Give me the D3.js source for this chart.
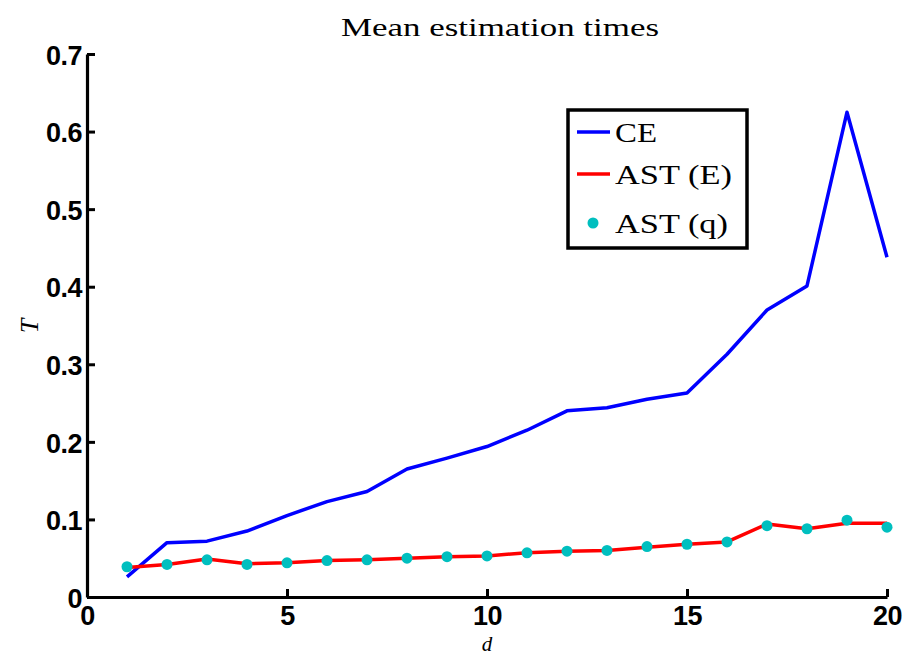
<!DOCTYPE html>
<html>
<head>
<meta charset="utf-8">
<script src="https://cdn.jsdelivr.net/npm/d3@7"></script>
<style>
  body { margin: 0; background: #fff; }
  svg { display: block; }
</style>
</head>
<body>
<div id="chart"></div>
<script>
// data
var dims = [1, 2, 3, 4, 5, 6, 7, 8, 9, 10, 11, 12, 13, 14, 15, 16, 17, 18, 19, 20];
var ceTimes = [0.026, 0.070, 0.072, 0.085, 0.105, 0.123, 0.136, 0.165, 0.179, 0.194, 0.215, 0.240, 0.244, 0.255, 0.263, 0.313, 0.370, 0.401, 0.625, 0.438];
var astE = [0.038, 0.042, 0.049, 0.043, 0.044, 0.047, 0.048, 0.050, 0.052, 0.053, 0.057, 0.059, 0.060, 0.064, 0.068, 0.071, 0.094, 0.088, 0.095, 0.095];
var astQ = [0.039, 0.042, 0.048, 0.042, 0.044, 0.047, 0.048, 0.050, 0.052, 0.053, 0.057, 0.059, 0.060, 0.065, 0.068, 0.071, 0.092, 0.088, 0.099, 0.090];
var xTicks = [0, 5, 10, 15, 20];
var yTicks = [0, 0.1, 0.2, 0.3, 0.4, 0.5, 0.6, 0.7];
var legendNames = ['CE', 'AST (E)', 'AST (q)'];

var svgwidth = 909, svgheight = 656;
var margin = {top: 54, left: 87, right: 22, bottom: 59};
var w = svgwidth - margin.left - margin.right;
var h = svgheight - margin.top - margin.bottom;

var svg = d3.select('#chart').append('svg')
    .attr('width', svgwidth)
    .attr('height', svgheight);

var x = d3.scaleLinear().domain([0, 20]).range([0, w]);
var y = d3.scaleLinear().domain([0, 0.7]).range([h, 0]);

var g = svg.append('g')
    .attr('transform', 'translate(' + margin.left + ',' + margin.top + ')');

//axes, ticks inward like matlab
var xAxis = g.append('g')
    .attr('transform', 'translate(0,' + h + ')')
    .call(d3.axisBottom(x).tickValues(xTicks).tickSize(-8).tickSizeOuter(0).tickPadding(9).tickFormat(d3.format('d')));
var yAxis = g.append('g')
    .call(d3.axisLeft(y).tickValues(yTicks).tickSize(-8).tickSizeOuter(0).tickPadding(5).tickFormat(function (d) { return d === 0 ? '0' : d3.format('.1f')(d); }));

[xAxis, yAxis].forEach(function (a) {
    a.select('.domain').attr('stroke', '#000').attr('stroke-width', 3.2);
    a.selectAll('.tick line').attr('stroke', '#000').attr('stroke-width', 3);
    a.selectAll('.tick text')
        .attr('fill', '#000')
        .style('font-family', 'Liberation Sans, Arial, sans-serif')
        .style('font-weight', 'bold')
        .style('font-size', '27px')
        .style('letter-spacing', '-0.5px');
});
xAxis.selectAll('.tick text').attr('dy', '0.71em');
yAxis.selectAll('.tick text').attr('dy', '0.38em');

// series
var line = d3.line()
    .x(function (d, i) { return x(dims[i]); })
    .y(function (d) { return y(d); });

g.append('path')
    .datum(ceTimes)
    .attr('d', line)
    .attr('fill', 'none')
    .attr('stroke', '#0000ff')
    .attr('stroke-width', 3.5)
    .attr('stroke-linejoin', 'round');

g.append('path')
    .datum(astE)
    .attr('d', line)
    .attr('fill', 'none')
    .attr('stroke', '#ff0000')
    .attr('stroke-width', 3.5)
    .attr('stroke-linejoin', 'round');

g.selectAll('.qdot')
    .data(astQ)
    .enter()
    .append('circle')
    .attr('class', 'qdot')
    .attr('cx', function (d, i) { return x(dims[i]); })
    .attr('cy', function (d) { return y(d); })
    .attr('r', 5.5)
    .attr('fill', '#00bfbf');

// title and axis labels
svg.append('text')
    .attr('x', 500)
    .attr('y', 36)
    .attr('text-anchor', 'middle')
    .style('font-family', 'Liberation Serif, serif')
    .style('font-size', '26px')
    .attr('textLength', 318)
    .attr('lengthAdjust', 'spacingAndGlyphs')
    .text('Mean estimation times');

svg.append('text')
    .attr('x', 487)
    .attr('y', 651)
    .attr('text-anchor', 'middle')
    .style('font-family', 'Liberation Serif, serif')
    .style('font-style', 'italic')
    .style('font-size', '21px')
    .text('d');

svg.append('text')
    .attr('transform', 'translate(38,326) rotate(-90)')
    .attr('text-anchor', 'middle')
    .style('font-family', 'Liberation Serif, serif')
    .style('font-style', 'italic')
    .style('font-size', '26px')
    .text('T');

// legend
var legend = svg.append('g').attr('transform', 'translate(568,110)');
legend.append('rect')
    .attr('width', 179)
    .attr('height', 138)
    .attr('fill', '#fff')
    .attr('stroke', '#000')
    .attr('stroke-width', 3.5);
var rowY = [22, 64, 113];
var rowWidth = [42, 117, 113];
var legendColors = ['#0000ff', '#ff0000', '#00bfbf'];
legend.selectAll('.lrow')
    .data(legendNames)
    .enter()
    .append('text')
    .attr('class', 'lrow')
    .attr('x', 47)
    .attr('y', function (d, i) { return rowY[i]; })
    .attr('dy', '0.36em')
    .attr('textLength', function (d, i) { return rowWidth[i]; })
    .attr('lengthAdjust', 'spacingAndGlyphs')
    .style('font-family', 'Liberation Serif, serif')
    .style('font-size', '28px')
    .text(function (d) { return d; });
[0, 1].forEach(function (i) {
    legend.append('line')
        .attr('x1', 9).attr('x2', 42)
        .attr('y1', rowY[i]).attr('y2', rowY[i])
        .attr('stroke', legendColors[i])
        .attr('stroke-width', 3.5);
});
legend.append('circle')
    .attr('cx', 25)
    .attr('cy', rowY[2])
    .attr('r', 5.5)
    .attr('fill', legendColors[2]);
</script>
</body>
</html>
